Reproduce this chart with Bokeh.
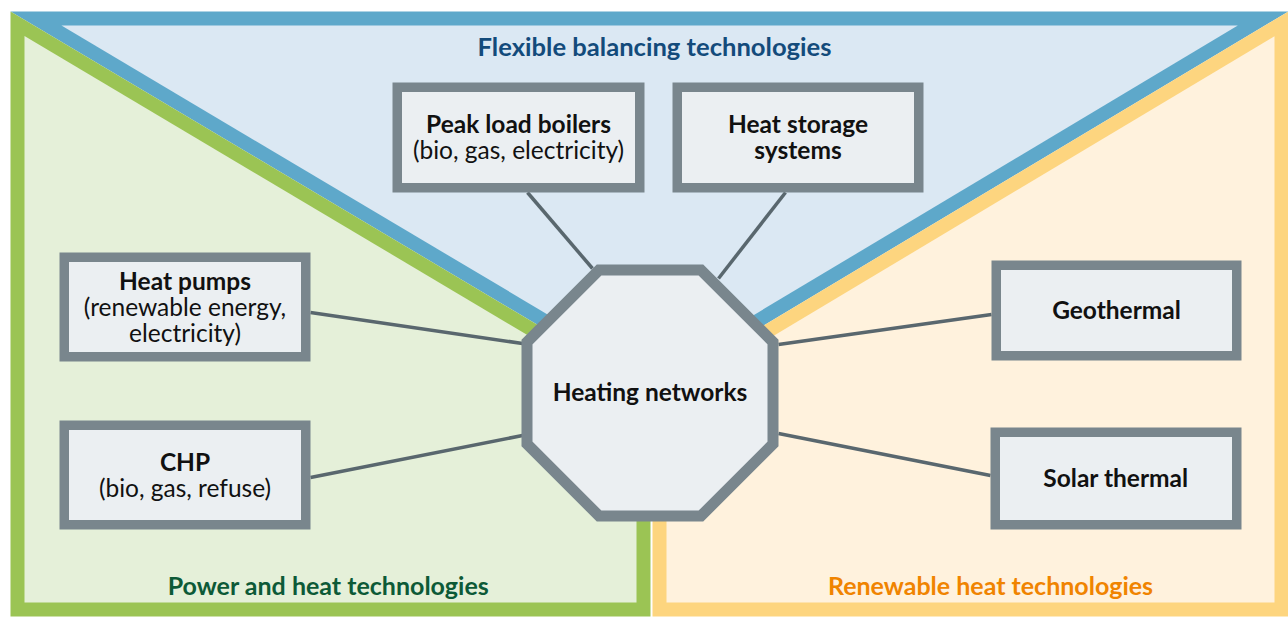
import numpy as np
from bokeh.plotting import figure
from bokeh.models import Range1d, ColumnDataSource
from bokeh.core.properties import value
from bokeh.embed import file_html
from bokeh.resources import INLINE

# ---------------- content ----------------
group_titles = ["Flexible balancing technologies",
                "Power and heat technologies",
                "Renewable heat technologies"]
hub_label = "Heating networks"
node_titles = ["Peak load boilers", "Heat storage\nsystems", "Heat pumps",
               "CHP", "Geothermal", "Solar thermal"]
node_details = ["(bio, gas, electricity)", "", "(renewable energy,\nelectricity)",
                "(bio, gas, refuse)", "", ""]

# ---------------- layout (pixel space of the diagram) ----------------
node_boxes = [(392, 644, 82, 192), (672, 923, 82, 192), (59, 310, 252, 361),
              (59, 310, 420, 529), (991, 1241, 260, 360), (990, 1241, 427, 529)]
link_ends = [((527, 192), (592, 268)), ((785, 192), (718, 278)),
             ((310, 312), (522, 343)), ((310, 477), (522, 435)),
             ((991, 314), (778, 344)), ((990, 475), (778, 433))]
hub_center = (649.5, 392.5)
hub_outer_half = 128.5
title_pos = [(654, 45), (328, 584), (990, 584)]
title_sizes = ["25.6px", "25px", "25px"]

FONT = "Lato"
BAND = 14

blue_band, blue_fill = "#5ea8ca", "#dbe8f3"
green_band, green_fill = "#9bc454", "#e5f0d9"
yellow_band, yellow_fill = "#fdd57f", "#fff2dd"
box_line, box_fill = "#79868d", "#ebeff2"
link_col = "#59676e"
title_cols = ["#134b7b", "#0d5a37", "#f08400"]

regions = [
    ([(10, 11), (1288, 11), (651, 392)], blue_band, blue_fill),
    ([(10, 11), (650, 391.4), (650, 616), (10, 616)], green_band, green_fill),
    ([(1288, 11), (1288, 616), (652, 616), (652, 391.4)], yellow_band, yellow_fill),
]


def inset(pts, d):
    pts = np.array(pts, float)
    n = len(pts)
    area = 0.5 * sum(pts[i, 0] * pts[(i + 1) % n, 1] - pts[(i + 1) % n, 0] * pts[i, 1]
                     for i in range(n))
    lines = []
    for i in range(n):
        a, b = pts[i], pts[(i + 1) % n]
        t = (b - a) / np.linalg.norm(b - a)
        nrm = np.array([-t[1], t[0]])
        if area < 0:
            nrm = -nrm
        lines.append((a + d * nrm, t))
    out = []
    for i in range(n):
        p1, t1 = lines[i - 1]
        p2, t2 = lines[i]
        A = np.array([t1, -t2]).T
        s, _ = np.linalg.solve(A, p2 - p1)
        out.append(p1 + s * t1)
    return np.array(out)


p = figure(width=1288, height=617, x_range=Range1d(0, 1288), y_range=Range1d(617, 0),
           x_axis_type=None, y_axis_type=None, toolbar_location=None,
           output_backend="svg", min_border=0)
p.grid.visible = False
p.outline_line_color = None
p.background_fill_color = "white"
p.border_fill_color = "white"

# regions
for pts, band, fill in regions:
    arr = np.array(pts, float)
    p.patch(arr[:, 0], arr[:, 1], fill_color=band, line_color=None)
    inn = inset(pts, BAND)
    p.patch(inn[:, 0], inn[:, 1], fill_color=fill, line_color=None)

# links
p.segment(x0=[a[0] for a, b in link_ends], y0=[a[1] for a, b in link_ends],
          x1=[b[0] for a, b in link_ends], y1=[b[1] for a, b in link_ends],
          line_color=link_col, line_width=3.5)

# boxes
BW = 9.5
p.rect(x=[(b[0] + b[1]) / 2 for b in node_boxes],
       y=[(b[2] + b[3]) / 2 for b in node_boxes],
       width=[b[1] - b[0] - BW for b in node_boxes],
       height=[b[3] - b[2] - BW for b in node_boxes],
       fill_color=box_fill, line_color=box_line, line_width=BW, line_join="miter")

# hub octagon
OW = 11
h = hub_outer_half - OW / 2
c = h * np.tan(np.pi / 8)
cx, cy = hub_center
ox = [cx - c, cx + c, cx + h, cx + h, cx + c, cx - c, cx - h, cx - h]
oy = [cy - h, cy - h, cy - c, cy + c, cy + h, cy + h, cy + c, cy - c]
p.patch(ox, oy, fill_color=box_fill, line_color=box_line, line_width=OW, line_join="miter")

# texts
xs, ys, ts, styles = [], [], [], []
for (x0, x1, y0, y1), title, detail in zip(node_boxes, node_titles, node_details):
    lines = [(t, "bold") for t in title.split("\n")]
    if detail:
        lines += [(t, "normal") for t in detail.split("\n")]
    n = len(lines)
    mx, my = (x0 + x1) / 2, (y0 + y1) / 2
    for i, (t, st) in enumerate(lines):
        xs.append(mx)
        ys.append(my - 1 + 26 * (i - (n - 1) / 2))
        ts.append(t)
        styles.append(st)
xs.append(cx); ys.append(cy - 1.5); ts.append(hub_label); styles.append("bold")
src = ColumnDataSource(dict(x=xs, y=ys, text=ts, style=styles))
p.text(x="x", y="y", text="text", source=src, text_font=value(FONT),
       text_font_style="style", text_font_size="24.5px", text_align="center",
       text_baseline="alphabetic", text_color="#111111")

tsrc = ColumnDataSource(dict(x=[q[0] for q in title_pos], y=[q[1] for q in title_pos],
                             text=group_titles, color=title_cols, size=title_sizes))
p.text(x="x", y="y", text="text", source=tsrc, text_font=value(FONT),
       text_font_style="bold", text_font_size="size", text_align="center",
       text_baseline="alphabetic", text_color="color")

open("out.html", "w").write(file_html(p, INLINE))
